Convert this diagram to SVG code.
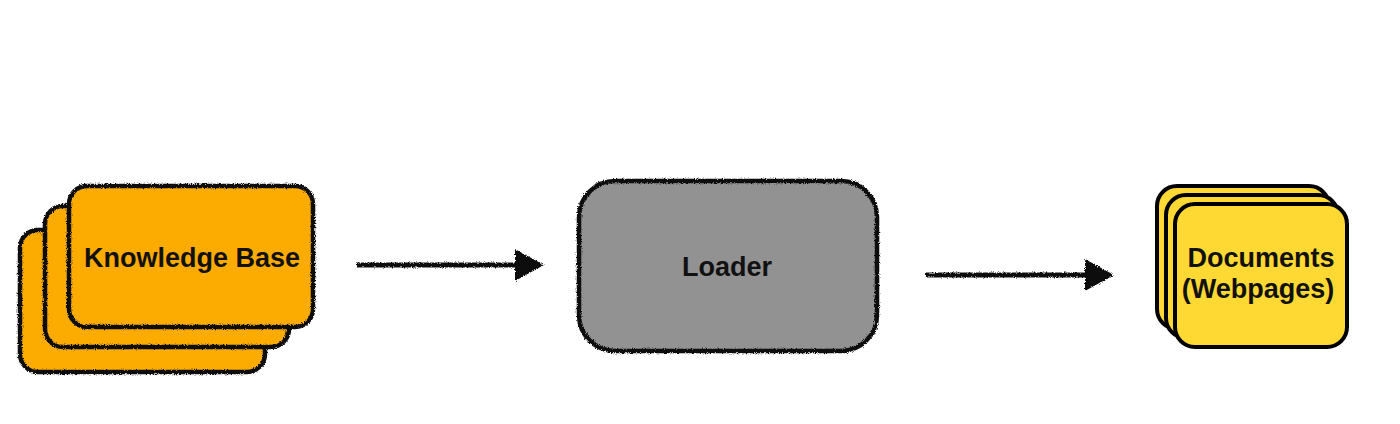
<svg xmlns="http://www.w3.org/2000/svg" width="1400" height="424" viewBox="0 0 1400 424">
  <defs>
    <filter id="rough" x="-10%" y="-10%" width="120%" height="120%">
      <feTurbulence type="fractalNoise" baseFrequency="0.9" numOctaves="2" seed="4" result="n"/>
      <feDisplacementMap in="SourceGraphic" in2="n" scale="3.5" xChannelSelector="R" yChannelSelector="G"/>
    </filter>
    <filter id="roughU" filterUnits="userSpaceOnUse" x="0" y="0" width="1400" height="424">
      <feTurbulence type="fractalNoise" baseFrequency="0.9" numOctaves="2" seed="7" result="n"/>
      <feDisplacementMap in="SourceGraphic" in2="n" scale="3.5" xChannelSelector="R" yChannelSelector="G"/>
    </filter>
    <marker id="head" markerUnits="userSpaceOnUse" markerWidth="30" markerHeight="34" viewBox="0 0 30 34" refX="3" refY="17" orient="auto">
      <path d="M0,1 L29,17 L0,33 Z" fill="#111"/>
    </marker>
    <style>
      .kb { fill: #FCAC00; }
      .rs { fill: none; stroke: #111; stroke-width: 4.5; filter: url(#rough); }
      .ld { fill: #929292; }
      .doc { fill: #FFD933; stroke: #000; stroke-width: 4; }
      .lbl { font-family: "Liberation Sans", Arial, sans-serif; font-weight: bold; font-size: 27px; fill: #111; text-anchor: middle; }
      .conn { fill: none; stroke: #111; stroke-width: 5; marker-end: url(#head); }
    </style>
  </defs>
  <rect width="1400" height="424" fill="#fff"/>

  <g id="knowledge-base">
    <rect class="kb" x="20" y="230" width="245" height="142" rx="18"/>
    <rect class="rs" x="20" y="230" width="245" height="142" rx="18"/>
    <rect class="kb" x="45" y="206" width="244" height="141" rx="18"/>
    <rect class="rs" x="45" y="206" width="244" height="141" rx="18"/>
    <rect class="kb" x="69" y="186" width="244" height="141" rx="18"/>
    <rect class="rs" x="69" y="186" width="244" height="141" rx="18"/>
    <text class="lbl" x="192" y="267">Knowledge Base</text>
  </g>

  <g id="loader">
    <rect class="ld" x="579" y="181" width="298" height="170" rx="36"/>
    <rect class="rs" x="579" y="181" width="298" height="170" rx="36"/>
    <text class="lbl" x="727" y="276">Loader</text>
  </g>

  <g id="documents">
    <rect class="doc" x="1157" y="186" width="172" height="143" rx="20"/>
    <rect class="doc" x="1166" y="195" width="172" height="143" rx="20"/>
    <rect class="doc" x="1175" y="204" width="172" height="143" rx="20"/>
    <text class="lbl" x="1261" y="267">Documents</text>
    <text class="lbl" x="1258" y="298">(Webpages)</text>
  </g>

  <g id="connectors" filter="url(#roughU)">
    <path class="conn" d="M357,265 L518,265"/>
    <path class="conn" d="M926,275 L1088,275"/>
  </g>
</svg>
